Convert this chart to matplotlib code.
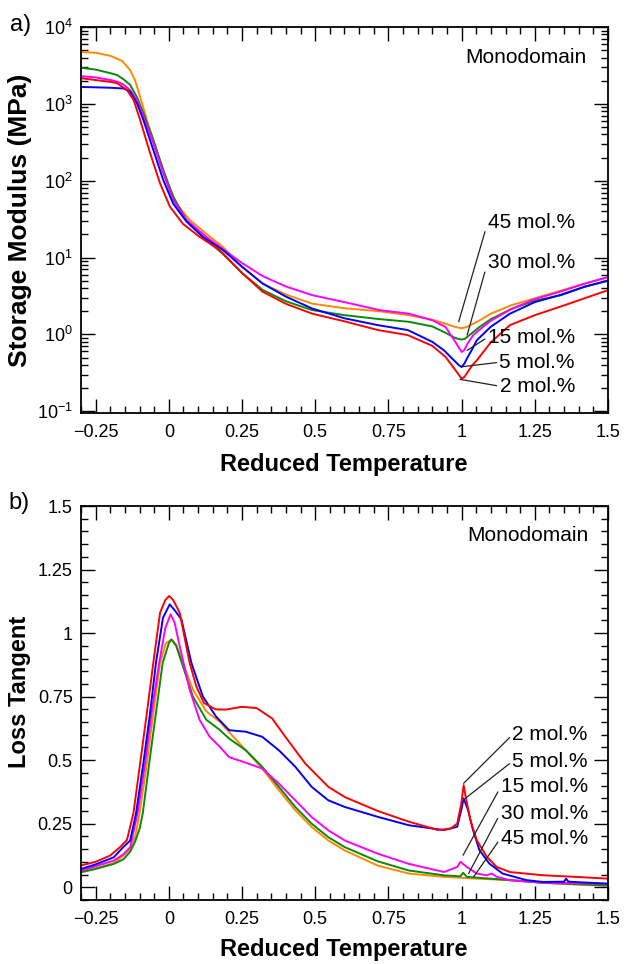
import numpy as np
import matplotlib
matplotlib.use('Agg')
import matplotlib.pyplot as plt
from matplotlib.ticker import MultipleLocator, FuncFormatter, LogLocator, NullFormatter

plt.rcParams['font.family'] = ['Liberation Sans', 'DejaVu Sans']
plt.rcParams['mathtext.fontset'] = 'custom'
plt.rcParams['mathtext.rm'] = 'Liberation Sans'

# storage modulus (MPa) against reduced temperature, one pair of lists per sample
mod_t_2 = [-0.30, -0.25, -0.20, -0.177, -0.143, -0.12, -0.098, -0.064, -0.030, 0.004, 0.048, 0.105, 0.173, 0.25, 0.32, 0.40,
           0.49, 0.60, 0.714, 0.816, 0.90, 0.945, 0.975, 0.99, 1.0, 1.01, 1.02, 1.035, 1.052, 1.10, 1.165, 1.25, 1.335, 1.42, 1.50]
mod_e_2 = [2160, 2040, 1930, 1860, 1510, 1120, 617, 229, 92.3, 45.7, 27.5, 18.6, 12.6, 6.3, 3.6, 2.5,
           1.86, 1.48, 1.14, 0.98, 0.71, 0.51, 0.36, 0.30, 0.266, 0.28, 0.32, 0.39, 0.46, 0.79, 1.32, 1.78, 2.28, 2.95, 3.76]
mod_t_5 = [-0.30, -0.25, -0.20, -0.155, -0.132, -0.109, -0.087, -0.053, -0.019, 0.015, 0.060, 0.116, 0.184, 0.25, 0.32, 0.40,
           0.49, 0.60, 0.714, 0.816, 0.90, 0.94, 0.974, 0.99, 1.0, 1.01, 1.02, 1.035, 1.052, 1.10, 1.165, 1.25, 1.335, 1.42, 1.50]
mod_e_5 = [1660, 1640, 1620, 1585, 1445, 1020, 617, 251, 102, 50.1, 29.5, 18.6, 12.6, 7.6, 4.6, 3.1,
           2.17, 1.62, 1.32, 1.14, 0.80, 0.62, 0.46, 0.40, 0.376, 0.42, 0.50, 0.63, 0.84, 1.26, 1.86, 2.63, 3.24, 4.17, 5.01]
mod_t_15 = [-0.30, -0.25, -0.20, -0.177, -0.155, -0.132, -0.109, -0.087, -0.053, -0.019, 0.015, 0.060, 0.128, 0.206, 0.25, 0.32,
            0.40, 0.49, 0.60, 0.72, 0.82, 0.90, 0.945, 0.975, 0.99, 1.0, 1.01, 1.02, 1.04, 1.06, 1.10, 1.17, 1.25, 1.34, 1.42, 1.50]
mod_e_15 = [2290, 2210, 2040, 1950, 1780, 1510, 1120, 692, 309, 126, 56.2, 30.9, 18.6, 11.2, 8.5, 5.75,
            4.2, 3.24, 2.63, 2.07, 1.86, 1.53, 1.25, 0.84, 0.68, 0.59, 0.63, 0.76, 0.98, 1.14, 1.51, 2.14, 2.88, 3.63, 4.57, 5.56]
mod_t_30 = [-0.30, -0.25, -0.20, -0.177, -0.155, -0.132, -0.109, -0.087, -0.053, -0.019, 0.015, 0.060, 0.116, 0.184, 0.25, 0.32,
            0.40, 0.49, 0.60, 0.72, 0.82, 0.90, 0.945, 0.975, 0.99, 1.0, 1.01, 1.03, 1.06, 1.10, 1.17, 1.25, 1.34, 1.42, 1.50]
mod_e_30 = [2950, 2790, 2510, 2370, 2090, 1760, 1230, 759, 339, 138, 61.7, 30.9, 18.6, 11.2, 6.3, 3.8,
            2.7, 2.07, 1.78, 1.58, 1.46, 1.27, 1.05, 0.91, 0.87, 0.86, 0.87, 1.0, 1.24, 1.58, 2.14, 2.75, 3.24, 4.17, 5.01]
mod_t_45 = [-0.30, -0.25, -0.20, -0.16, -0.132, -0.115, -0.098, -0.075, -0.042, -0.008, 0.026, 0.071, 0.128, 0.184, 0.25, 0.32,
            0.40, 0.49, 0.60, 0.72, 0.82, 0.90, 0.945, 0.975, 1.0, 1.02, 1.06, 1.10, 1.17, 1.25, 1.34, 1.42, 1.50]
mod_e_45 = [4730, 4620, 4220, 3630, 2750, 2000, 1230, 617, 251, 102, 50.1, 30.9, 20.4, 13.8, 7.6, 4.6,
            3.3, 2.51, 2.19, 2.0, 1.78, 1.55, 1.38, 1.26, 1.20, 1.26, 1.51, 1.86, 2.40, 2.95, 3.72, 4.57, 5.56]

# loss tangent
tan_t_2 = [-0.30, -0.25, -0.20, -0.166, -0.143, -0.121, -0.098, -0.075, -0.053, -0.030, -0.012, 0.001, 0.015, 0.037,
           0.071, 0.094, 0.12, 0.16, 0.195, 0.25, 0.30, 0.353, 0.398, 0.466, 0.545, 0.601, 0.714, 0.82, 0.92, 0.963, 0.985,
           0.999, 1.007, 1.014, 1.03, 1.052, 1.086, 1.12, 1.165, 1.28, 1.39, 1.50]
tan_d_2 = [0.086, 0.10, 0.125, 0.159, 0.186, 0.291, 0.488, 0.686, 0.883, 1.08, 1.13, 1.146, 1.13, 1.08,
           0.883, 0.79, 0.725, 0.700, 0.699, 0.71, 0.705, 0.664, 0.592, 0.487, 0.395, 0.355, 0.30, 0.258, 0.225, 0.231, 0.251,
           0.330, 0.402, 0.356, 0.264, 0.185, 0.12, 0.08, 0.06, 0.047, 0.041, 0.034]
tan_t_5 = [-0.30, -0.25, -0.188, -0.155, -0.132, -0.112, -0.087, -0.064, -0.044, -0.02, 0.003, 0.02, 0.043, 0.077,
           0.116, 0.161, 0.206, 0.263, 0.319, 0.376, 0.432, 0.488, 0.545, 0.601, 0.714, 0.82, 0.94, 0.985, 0.999, 1.007,
           1.022, 1.039, 1.061, 1.095, 1.14, 1.222, 1.278, 1.35, 1.357, 1.365, 1.40, 1.50]
tan_d_5 = [0.072, 0.09, 0.118, 0.159, 0.184, 0.291, 0.488, 0.686, 0.883, 1.06, 1.113, 1.09, 1.054, 0.883,
           0.751, 0.672, 0.618, 0.612, 0.592, 0.539, 0.474, 0.395, 0.342, 0.316, 0.277, 0.244, 0.225, 0.238, 0.304, 0.350,
           0.304, 0.225, 0.146, 0.093, 0.054, 0.028, 0.021, 0.022, 0.034, 0.022, 0.02, 0.014]
tan_t_15 = [-0.30, -0.25, -0.188, -0.155, -0.132, -0.107, -0.081, -0.059, -0.033, -0.012, 0.006, 0.02, 0.037, 0.071,
            0.105, 0.139, 0.173, 0.206, 0.263, 0.319, 0.376, 0.432, 0.488, 0.545, 0.601, 0.714, 0.82, 0.94, 0.985, 0.996,
            1.018, 1.052, 1.086, 1.103, 1.12, 1.165, 1.278, 1.50]
tan_d_15 = [0.066, 0.083, 0.105, 0.13, 0.158, 0.291, 0.488, 0.686, 0.883, 1.02, 1.074, 1.04, 0.949, 0.778,
            0.659, 0.593, 0.554, 0.512, 0.49, 0.467, 0.408, 0.342, 0.276, 0.224, 0.184, 0.132, 0.092, 0.060, 0.080, 0.100,
            0.080, 0.054, 0.047, 0.054, 0.041, 0.028, 0.018, 0.014]
tan_t_30 = [-0.30, -0.25, -0.188, -0.155, -0.132, -0.115, -0.10, -0.089, -0.067, -0.044, -0.021, 0.0, 0.009, 0.025,
            0.048, 0.082, 0.128, 0.173, 0.206, 0.263, 0.319, 0.376, 0.432, 0.488, 0.545, 0.601, 0.714, 0.82, 0.94, 0.996,
            1.005, 1.018, 1.052, 1.165, 1.278, 1.50]
tan_d_30 = [0.059, 0.072, 0.092, 0.11, 0.14, 0.18, 0.23, 0.291, 0.488, 0.686, 0.883, 0.96, 0.975, 0.95,
            0.87, 0.751, 0.659, 0.62, 0.585, 0.539, 0.474, 0.395, 0.316, 0.25, 0.197, 0.158, 0.102, 0.066, 0.047, 0.043,
            0.057, 0.041, 0.038, 0.028, 0.018, 0.007]
tan_t_45 = [-0.30, -0.25, -0.188, -0.155, -0.132, -0.115, -0.100, -0.075, -0.053, -0.030, -0.010, 0.009, 0.025, 0.048,
            0.082, 0.128, 0.173, 0.206, 0.263, 0.319, 0.376, 0.432, 0.488, 0.545, 0.601, 0.714, 0.82, 0.94, 1.052, 1.165,
            1.278, 1.50]
tan_d_45 = [0.066, 0.075, 0.095, 0.125, 0.15, 0.20, 0.291, 0.488, 0.686, 0.883, 0.96, 0.975, 0.955, 0.883,
            0.778, 0.692, 0.652, 0.61, 0.539, 0.467, 0.382, 0.303, 0.237, 0.184, 0.145, 0.085, 0.054, 0.041, 0.034, 0.028,
            0.017, 0.005]

colors = {'2': '#ff0000', '5': '#0000ff', '15': '#ff00ff', '30': '#0a8a0a', '45': '#ff8800'}

# labels with leader lines: (label, tip x, tip y, text x, text y)
mod_labels = [('45 mol.%', 0.990, 1.46, 1.387, 28.9),
              ('30 mol.%', 1.019, 0.98, 1.387, 8.7),
              ('15 mol.%', 1.019, 0.62, 1.387, 0.92),
              ('5 mol.%', 1.002, 0.38, 1.387, 0.434),
              ('2 mol.%', 0.995, 0.26, 1.387, 0.212)]
tan_labels = [('2 mol.%', 1.007, 0.409, 1.431, 0.600),
              ('5 mol.%', 1.013, 0.350, 1.431, 0.495),
              ('15 mol.%', 1.005, 0.126, 1.431, 0.395),
              ('30 mol.%', 1.024, 0.054, 1.431, 0.292),
              ('45 mol.%', 1.041, 0.041, 1.431, 0.193)]


def num(v, pos):
    s = '%g' % v
    return s.replace('-', '\u2212')


def style(ax):
    ax.set_xlim(-0.3, 1.5)
    ax.xaxis.set_major_locator(MultipleLocator(0.25))
    ax.xaxis.set_minor_locator(MultipleLocator(0.05))
    ax.xaxis.set_major_formatter(FuncFormatter(num))
    ax.tick_params(which='both', direction='in', top=True, right=True, width=1.0, labelsize=13)
    ax.tick_params(which='major', length=10)
    ax.tick_params(which='minor', length=5)
    ax.tick_params(axis='x', pad=8)
    ax.tick_params(axis='y', pad=6)
    for s in ax.spines.values():
        s.set_linewidth(1.3)


fig = plt.figure(figsize=(6.26, 9.64), dpi=100)
ax1 = fig.add_axes([0.1294, 0.5716, 0.8418, 0.4004])
ax2 = fig.add_axes([0.1294, 0.0664, 0.8418, 0.4087])

ax1.plot(mod_t_45, mod_e_45, color=colors['45'], lw=1.4)
ax1.plot(mod_t_30, mod_e_30, color=colors['30'], lw=1.4)
ax1.plot(mod_t_15, mod_e_15, color=colors['15'], lw=1.4)
ax1.plot(mod_t_5, mod_e_5, color=colors['5'], lw=1.4)
ax1.plot(mod_t_2, mod_e_2, color=colors['2'], lw=1.4)
ax1.set_yscale('log')
ax1.set_ylim(0.095, 1e4)
ax1.yaxis.set_major_locator(LogLocator(base=10, numticks=10))
ax1.yaxis.set_minor_locator(LogLocator(base=10, subs=np.arange(2, 10), numticks=20))
ax1.yaxis.set_minor_formatter(NullFormatter())
style(ax1)
ax1.set_xlabel('Reduced Temperature', fontsize=17, fontweight='bold')
ax1.set_ylabel('Storage Modulus (MPa)', fontsize=19, fontweight='bold')
ax1.xaxis.set_label_coords(0.498, -0.103)
ax1.yaxis.set_label_coords(-0.093, 0.5)
ax1.text(0.844, 0.92, 'Monodomain', transform=ax1.transAxes, ha='center', va='center', fontsize=15)
for lab, tx, ty, lx, ly in mod_labels:
    ax1.annotate(lab, xy=(tx, ty), xytext=(lx, ly), ha='right', va='center', fontsize=15,
                 arrowprops=dict(arrowstyle='-', color='#222222', lw=0.9, shrinkA=0, shrinkB=0, relpos=(0, 0.5)))

ax2.plot(tan_t_45, tan_d_45, color=colors['45'], lw=1.4)
ax2.plot(tan_t_30, tan_d_30, color=colors['30'], lw=1.4)
ax2.plot(tan_t_15, tan_d_15, color=colors['15'], lw=1.4)
ax2.plot(tan_t_5, tan_d_5, color=colors['5'], lw=1.4)
ax2.plot(tan_t_2, tan_d_2, color=colors['2'], lw=1.4)
ax2.set_ylim(-0.05, 1.5)
ax2.yaxis.set_major_locator(MultipleLocator(0.25))
ax2.yaxis.set_minor_locator(MultipleLocator(0.05))
ax2.yaxis.set_major_formatter(FuncFormatter(num))
style(ax2)
ax2.set_xlabel('Reduced Temperature', fontsize=17, fontweight='bold')
ax2.set_ylabel('Loss Tangent', fontsize=17, fontweight='bold')
ax2.xaxis.set_label_coords(0.498, -0.097)
ax2.yaxis.set_label_coords(-0.095, 0.529)
ax2.text(0.848, 0.926, 'Monodomain', transform=ax2.transAxes, ha='center', va='center', fontsize=15)
for lab, tx, ty, lx, ly in tan_labels:
    ax2.annotate(lab, xy=(tx, ty), xytext=(lx, ly), ha='right', va='center', fontsize=15,
                 arrowprops=dict(arrowstyle='-', color='#222222', lw=0.9, shrinkA=0, shrinkB=0, relpos=(0, 0.5)))

fig.text(21 / 626, 1 - 25 / 964, 'a)', ha='center', va='center', fontsize=17)
fig.text(19 / 626, 1 - 503 / 964, 'b)', ha='center', va='center', fontsize=17)

fig.savefig('out.png', dpi=100)
